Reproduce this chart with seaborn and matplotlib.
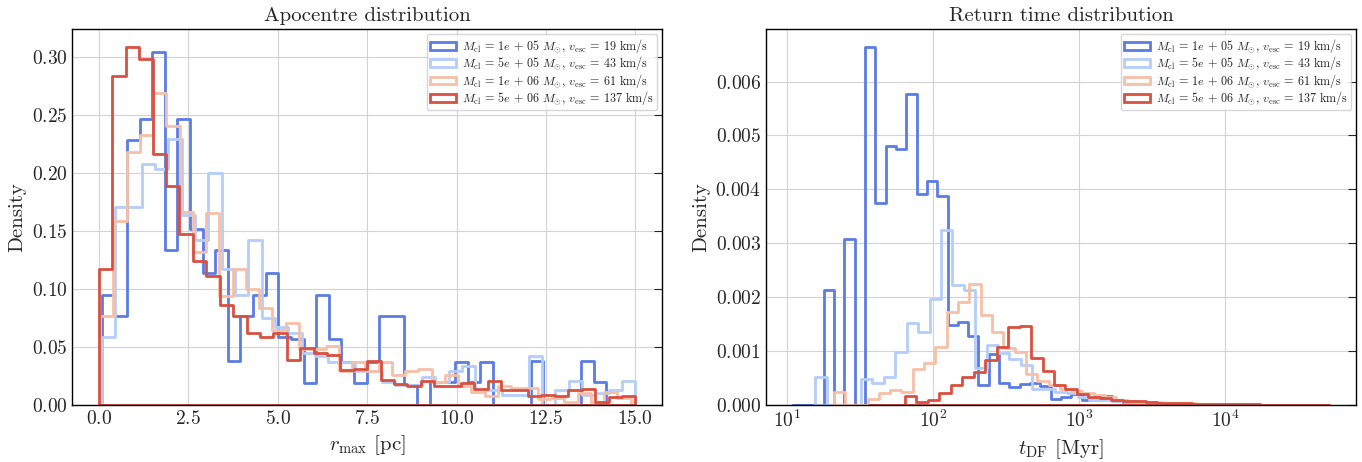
import numpy as np
import matplotlib
matplotlib.use("Agg")
import matplotlib.pyplot as plt
import seaborn as sns

# cluster masses / escape velocities of the four runs
masses = ["1e\\,+\\,05", "5e\\,+\\,05", "1e\\,+\\,06", "5e\\,+\\,06"]
v_esc = [19, 43, 61, 137]
colors = ["#5b7ce2", "#b4cdfa", "#f5c0a7", "#d85040"]

# apocentre histograms (density per bin, 40 bins over each run's own range, pc)
r_range = [(0.074, 14.19), (0.074, 15.0), (0.027, 14.87), (0.0, 15.0)]
r_dens_1e5 = [0.095, 0.077, 0.229, 0.247, 0.305, 0.134, 0.247, 0.152, 0.114, 0.134,
              0.038, 0.077, 0.095, 0.114, 0.059, 0.057, 0.019, 0.095, 0.057, 0.037,
              0.019, 0.037, 0.077, 0.077, 0.017, 0.0, 0.02, 0.02, 0.037, 0.02,
              0.037, 0.0, 0.0, 0.0, 0.038, 0.0, 0.0, 0.0, 0.038, 0.02]
r_dens_5e5 = [0.059, 0.171, 0.171, 0.208, 0.204, 0.23, 0.164, 0.142, 0.2, 0.117,
              0.095, 0.142, 0.075, 0.067, 0.062, 0.045, 0.042, 0.037, 0.037, 0.029,
              0.029, 0.02, 0.017, 0.017, 0.024, 0.02, 0.029, 0.034, 0.013, 0.013,
              0.009, 0.009, 0.042, 0.0, 0.013, 0.021, 0.009, 0.01, 0.013, 0.021]
r_dens_1e6 = [0.077, 0.159, 0.218, 0.233, 0.269, 0.241, 0.167, 0.132, 0.166, 0.094,
              0.117, 0.1, 0.084, 0.065, 0.071, 0.048, 0.048, 0.051, 0.029, 0.037,
              0.029, 0.037, 0.026, 0.029, 0.031, 0.02, 0.026, 0.016, 0.011, 0.008,
              0.016, 0.015, 0.015, 0.005, 0.006, 0.003, 0.01, 0.003, 0.011, 0.006]
r_dens_5e6 = [0.117, 0.284, 0.309, 0.299, 0.217, 0.189, 0.148, 0.124, 0.111, 0.086,
              0.077, 0.062, 0.059, 0.062, 0.039, 0.049, 0.045, 0.043, 0.03, 0.031,
              0.038, 0.022, 0.018, 0.016, 0.021, 0.016, 0.016, 0.019, 0.014, 0.021,
              0.013, 0.013, 0.008, 0.009, 0.008, 0.013, 0.014, 0.003, 0.007, 0.008]

# return time histograms (density per log bin, 40 bins, range in Myr)
t_range = [(11.0, 7310.0), (15.7, 20900.0), (20.9, 26100.0), (37.4, 51500.0)]
t_dens_1e5 = [0, 0, 0, 0.00213, 0, 0.00307, 0, 0.00664, 0.00375, 0.0048,
              0.00474, 0.00576, 0.00391, 0.00415, 0.00388, 0.00149, 0.00154, 0.00128, 0.00037, 0.00094,
              0.0004, 0.00034, 0.00039, 0.0004, 0.00035, 0.00012, 0.00015, 0.0002, 0.0001, 0.0001,
              0.00017, 0.00008, 0.00003, 0.00003, 0.00003, 0.00002, 0.00002, 0.00001, 0.00001, 0.00001]
t_dens_5e5 = [0.00051, 0, 0, 0, 0.00048, 0.00041, 0.00051, 0.00098, 0.00153, 0.00136,
              0.00196, 0.00324, 0.00222, 0.00214, 0.00068, 0.00111, 0.00097, 0.00086, 0.00074, 0.00029,
              0.00029, 0.00025, 0.00022, 0.00015, 0.0001, 0.0001, 0.00008, 0.00006, 0.00005, 0.00004,
              0.00003, 0.00002, 0.00002, 0.00002, 0.00001, 0.00001, 0.00001, 0.000005, 0.000005, 0.000005]
t_dens_1e6 = [0.00025, 0, 0, 0.00012, 0.00023, 0.00028, 0.00024, 0.00066, 0.00078, 0.00108,
              0.00173, 0.00191, 0.00225, 0.00167, 0.00135, 0.00105, 0.00099, 0.00057, 0.00045, 0.00037,
              0.0003, 0.00026, 0.00022, 0.00018, 0.00014, 0.0001, 0.00008, 0.00006, 0.00005, 0.00004,
              0.00003, 0.00003, 0.00002, 0.00002, 0.00001, 0.00001, 0.00001, 0.000008, 0.000005, 0.000005]
t_dens_5e6 = [0, 0, 0, 0.00017, 0.00006, 0.0001, 0.00022, 0.00037, 0.00052, 0.00062,
              0.00083, 0.00107, 0.00145, 0.00146, 0.00088, 0.00063, 0.00037, 0.00029, 0.0002, 0.00014,
              0.00013, 0.0001, 0.00008, 0.00007, 0.00005, 0.00004, 0.00003, 0.00003, 0.00002, 0.00002,
              0.000015, 0.00001, 0.00001, 0.00001, 0.000008, 0.000006, 0.000005, 0.000004, 0.000003, 0.000003]

r_dens = [r_dens_1e5, r_dens_5e5, r_dens_1e6, r_dens_5e6]
t_dens = [t_dens_1e5, t_dens_5e5, t_dens_1e6, t_dens_5e6]

sns.set_style("white")
plt.rcParams.update({
    "font.family": "serif",
    "font.serif": ["cmr10", "DejaVu Serif"],
    "mathtext.fontset": "cm",
    "axes.formatter.use_mathtext": True,
    "axes.unicode_minus": False,
    "axes.edgecolor": "black",
    "axes.linewidth": 1.0,
})

fig, axes = plt.subplots(1, 2, figsize=(13.62, 4.62), dpi=100)
fig.subplots_adjust(left=0.053, right=0.9956, bottom=0.1234, top=0.937, wspace=0.176)

labels = [r"$M_{\rm cl}\, =\, %s\ M_{\odot}$, $v_{\rm esc}\, =\, %d$ km/s" % (m, v)
          for m, v in zip(masses, v_esc)]

# left: apocentre
ax = axes[0]
for dens, (lo, hi), c, lab in zip(r_dens, r_range, colors, labels):
    edges = np.linspace(lo, hi, len(dens) + 1)
    centres = 0.5 * (edges[1:] + edges[:-1])
    sns.histplot(x=centres, weights=dens, bins=edges.tolist(), stat="count", element="step",
                 fill=True, color=c, facecolor="none", edgecolor=c, linewidth=2,
                 label=lab, ax=ax)
ax.set_title("Apocentre distribution", fontsize=15)
ax.set_xlabel(r"$r_{\rm max}$ [pc]", fontsize=15)
ax.set_xticks(np.arange(0, 15.1, 2.5))

# right: return time (bins given in log10 units)
ax = axes[1]
for dens, (lo, hi), c, lab in zip(t_dens, t_range, colors, labels):
    edges = np.linspace(np.log10(lo), np.log10(hi), len(dens) + 1)
    centres = 10 ** (0.5 * (edges[1:] + edges[:-1]))
    sns.histplot(x=centres, weights=dens, bins=edges.tolist(), stat="count", element="step",
                 fill=True, color=c, facecolor="none", edgecolor=c, linewidth=2,
                 label=lab, log_scale=True, ax=ax)
ax.set_title("Return time distribution", fontsize=15)
ax.set_xlabel(r"$t_{\rm DF}$ [Myr]", fontsize=15)

for ax in axes:
    ax.set_ylabel("Density", fontsize=15)
    ax.grid(True, which="major", color="#d3d3d3", linewidth=0.8)
    ax.set_axisbelow(True)
    ax.tick_params(which="both", direction="in", top=False, right=True, labelsize=14)
    ax.tick_params(which="major", length=6)
    ax.tick_params(which="minor", length=3)
    ax.legend(loc="upper right", fontsize=8.7, handlelength=2.2, handleheight=0.6,
              borderpad=0.25, labelspacing=-0.05, handletextpad=0.5,
              borderaxespad=0.4, framealpha=0.8)

fig.savefig("out.png", dpi=100)
